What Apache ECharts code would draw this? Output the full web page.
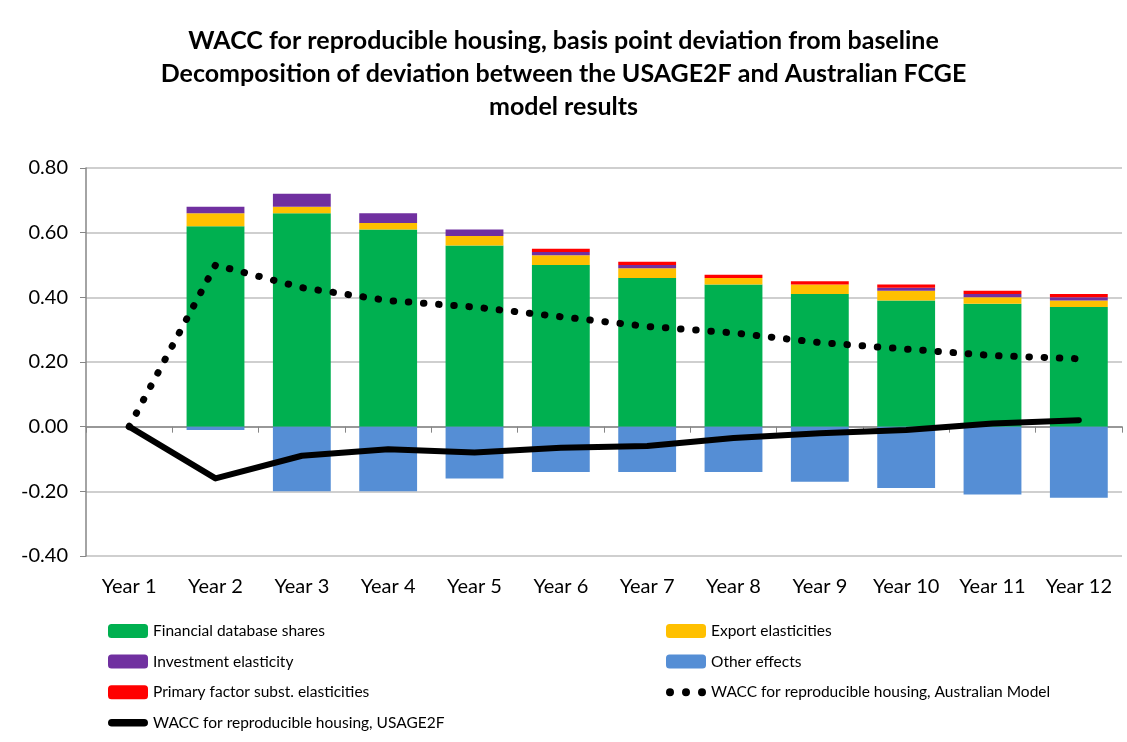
<!DOCTYPE html>
<html>
<head>
<meta charset="utf-8">
<script src="https://cdn.jsdelivr.net/npm/echarts@6/dist/echarts.min.js"></script>
<style>
  html, body { margin: 0; padding: 0; background: #fff; }
  #chart { width: 1127px; height: 742px; }
</style>
</head>
<body>
<div id="chart"></div>
<script>
// categories and series
const years = ['Year 1', 'Year 2', 'Year 3', 'Year 4', 'Year 5', 'Year 6', 'Year 7', 'Year 8', 'Year 9', 'Year 10', 'Year 11', 'Year 12']
const financialShares = [0, 0.62, 0.66, 0.61, 0.56, 0.50, 0.46, 0.44, 0.41, 0.39, 0.38, 0.37]
const exportElast = [0, 0.04, 0.02, 0.02, 0.03, 0.03, 0.03, 0.02, 0.03, 0.03, 0.02, 0.02]
const investElast = [0, 0.02, 0.04, 0.03, 0.02, 0.01, 0.01, 0, 0, 0.01, 0.01, 0.01]
const primaryElast = [0, 0, 0, 0, 0, 0.01, 0.01, 0.01, 0.01, 0.01, 0.01, 0.01]
const otherEffects = [0, -0.01, -0.20, -0.20, -0.16, -0.14, -0.14, -0.14, -0.17, -0.19, -0.21, -0.22]
const waccAustralian = [0, 0.50, 0.43, 0.39, 0.37, 0.34, 0.31, 0.29, 0.26, 0.24, 0.22, 0.21]
const waccUsage2f = [0, -0.16, -0.09, -0.07, -0.08, -0.065, -0.06, -0.035, -0.02, -0.01, 0.01, 0.02]

const FONT = 'Lato'

// legend icons for the two lines: three dots, and a thick rounded bar
const dotsIcon = 'path://M0,3.5a3.5,3.5 0 1,0 7,0a3.5,3.5 0 1,0 -7,0M14,3.5a3.5,3.5 0 1,0 7,0a3.5,3.5 0 1,0 -7,0M28,3.5a3.5,3.5 0 1,0 7,0a3.5,3.5 0 1,0 -7,0'
const barLineIcon = 'path://M4,0H38A4,4 0 0,1 38,8H4A4,4 0 0,1 4,0Z'

const chart = echarts.init(document.getElementById('chart'), null, { renderer: 'canvas' })

function bar(name, data, color) {
  return {
    name: name,
    type: 'bar',
    stack: 'total',
    data: data,
    barWidth: '67%',
    itemStyle: { color: color },
    animation: false
  }
}

const legendBase = {
  orient: 'vertical',
  top: 623,
  padding: 0,
  itemWidth: 40,
  itemHeight: 14,
  itemGap: 14.6,
  symbolKeepAspect: true,
  selectedMode: false,
  textStyle: { fontSize: 15.5, color: '#000' }
}

chart.setOption({
  textStyle: { fontFamily: FONT },
  title: {
    text: 'WACC for reproducible housing, basis point deviation from baseline\nDecomposition of deviation between the USAGE2F and Australian FCGE\nmodel results',
    left: 'center',
    top: 24,
    padding: [0, 0, 0, 22],
    textStyle: {
      fontFamily: FONT,
      fontSize: 25,
      fontWeight: 'bold',
      color: '#000',
      lineHeight: 33
    }
  },
  legend: [Object.assign({}, legendBase, {
    left: 108,
    data: [
      'Financial database shares',
      'Investment elasticity',
      'Primary factor subst. elasticities',
      { name: 'WACC for reproducible housing, USAGE2F', icon: barLineIcon }
    ]
  }), Object.assign({}, legendBase, {
    left: 666,
    data: [
      'Export elasticities',
      'Other effects',
      { name: 'WACC for reproducible housing, Australian Model', icon: dotsIcon }
    ]
  })],
  grid: {
    left: 86,
    top: 168,
    width: 1036,
    height: 388,
    containLabel: false
  },
  xAxis: [{
    type: 'category',
    data: years,
    position: 'bottom',
    axisLine: { show: false, onZero: false },
    axisTick: { show: false },
    axisLabel: { fontSize: 20, color: '#000', margin: 21, interval: 0 }
  }, {
    type: 'category',
    data: years,
    position: 'bottom',
    axisLine: { onZero: true, lineStyle: { color: '#868686', width: 1.5 } },
    axisTick: { show: true, length: 6, interval: 0, lineStyle: { color: '#868686' } },
    axisLabel: { show: false }
  }],
  yAxis: {
    type: 'value',
    min: -0.4,
    max: 0.8,
    interval: 0.2,
    axisLine: { show: true, lineStyle: { color: '#868686', width: 1.5 } },
    axisTick: { show: true, length: 6, lineStyle: { color: '#868686' } },
    axisLabel: {
      fontSize: 20,
      color: '#000',
      margin: 18,
      formatter: v => v.toFixed(2)
    },
    splitLine: { lineStyle: { color: '#bfbfbf', width: 1.5 } }
  },
  series: [
    bar('Financial database shares', financialShares, '#00B050'),
    bar('Export elasticities', exportElast, '#FFC000'),
    bar('Investment elasticity', investElast, '#7030A0'),
    bar('Other effects', otherEffects, '#558ED5'),
    bar('Primary factor subst. elasticities', primaryElast, '#FF0000'),
    {
      name: 'WACC for reproducible housing, Australian Model',
      type: 'line',
      data: waccAustralian,
      symbol: 'none',
      itemStyle: { color: '#000' },
      lineStyle: { color: '#000', width: 7, type: [0.5, 14.7], cap: 'round' },
      animation: false,
      z: 5
    },
    {
      name: 'WACC for reproducible housing, USAGE2F',
      type: 'line',
      data: waccUsage2f,
      symbol: 'none',
      itemStyle: { color: '#000' },
      lineStyle: { color: '#000', width: 6, cap: 'round', join: 'round' },
      animation: false,
      z: 6
    }
  ]
})
</script>
</body>
</html>
